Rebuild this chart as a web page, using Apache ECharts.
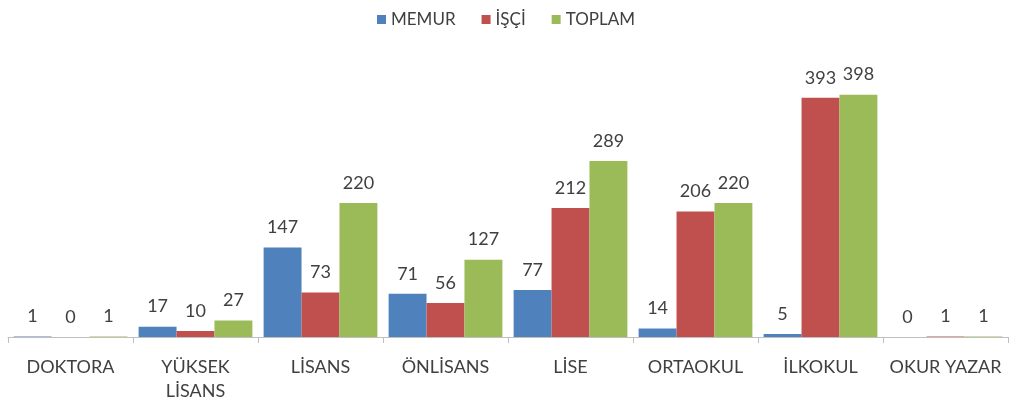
<!DOCTYPE html>
<html><head><meta charset="utf-8">
<script src="https://cdn.jsdelivr.net/npm/echarts@6/dist/echarts.min.js"></script>
<style>html,body{margin:0;padding:0;background:#fff}#c{width:1012px;height:410px}</style>
</head><body><div id="c"></div>
<script>
const categories = ['DOKTORA','YÜKSEK\nLİSANS','LİSANS','ÖNLİSANS','LİSE','ORTAOKUL','İLKOKUL','OKUR YAZAR'];
const memur = [1,17,147,71,77,14,5,0];
const isci = [0,10,73,56,212,206,393,1];
const toplam = [1,27,220,127,289,220,398,1];
const seriesNames = ['MEMUR','İŞÇİ','TOPLAM'];
const colors = ['#4F81BD','#C0504D','#9BBB59'];

const font = 'Lato';
const chart = echarts.init(document.getElementById('c'));
const mk = (name, data, color) => ({
  name, type: 'bar', data, barGap: '0%', barCategoryGap: '9%',
  itemStyle: {color},
  label: {show: true, position: 'top', distance: 11, color: '#404040', fontSize: 18, fontFamily: font}
});
chart.setOption({
  animation: false,
  legend: {top: 6, left: 'center', itemWidth: 9, itemHeight: 9, itemGap: 26,
    icon: 'rect', textStyle: {color: '#404040', fontSize: 17, fontFamily: font}},
  grid: {left: 8, right: 4, top: 63, bottom: 73},
  xAxis: {type: 'category', data: categories,
    axisLine: {lineStyle: {color: '#BFBFBF'}},
    axisTick: {show: true, length: 6, lineStyle: {color: '#BFBFBF'}},
    axisLabel: {color: '#404040', fontSize: 18, fontFamily: font, margin: 18, lineHeight: 24, interval: 0}},
  yAxis: {type: 'value', min: 0, max: 450, show: false, splitLine: {show: false}},
  series: [mk(seriesNames[0], memur, colors[0]), mk(seriesNames[1], isci, colors[1]), mk(seriesNames[2], toplam, colors[2])]
});
</script></body></html>
